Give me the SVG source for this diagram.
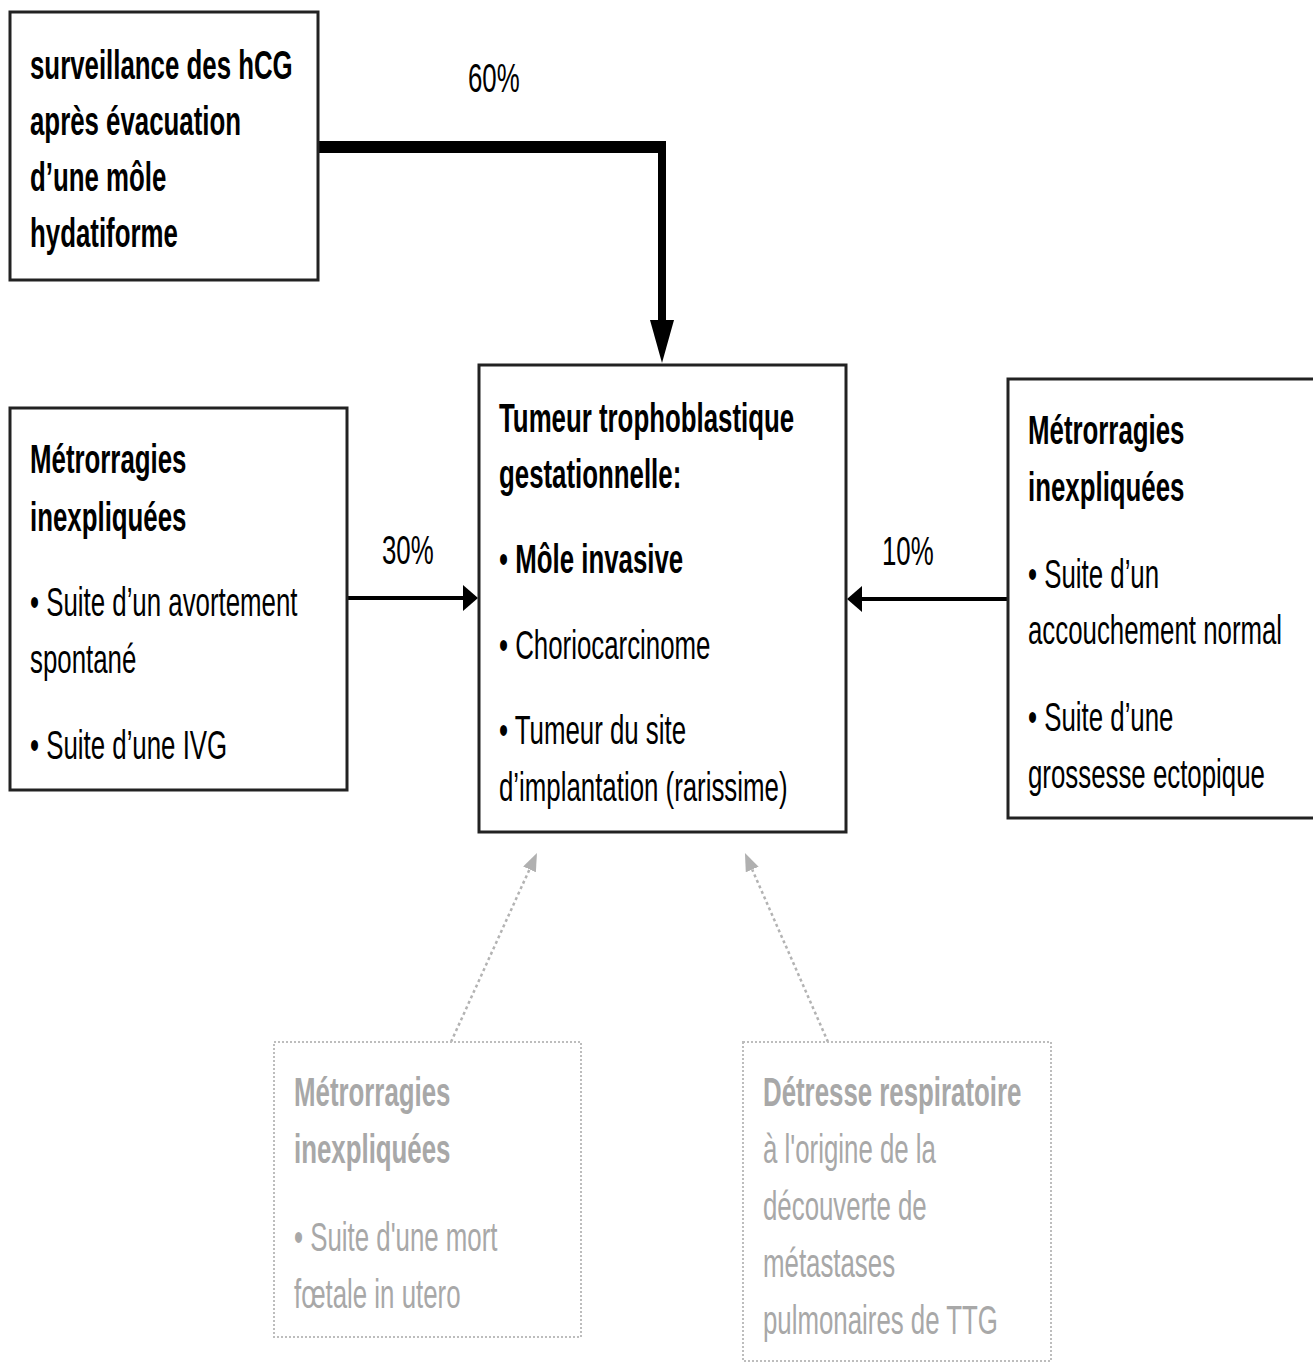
<svg xmlns="http://www.w3.org/2000/svg" width="1313" height="1363" viewBox="0 0 1313 1363">
<defs>
<style>
text{font-family:"Liberation Sans",Arial,sans-serif;font-size:40px;fill:#000}
.b{font-weight:bold}
.g{fill:#a8a8a8}
.box{fill:#fff;stroke:#222;stroke-width:3}
.dbox{fill:#fff;stroke:#bdbdbd;stroke-width:2;stroke-dasharray:2 2}
.ln{fill:none;stroke:#000;stroke-width:4}
.dl{fill:none;stroke:#b3b3b3;stroke-width:2.5;stroke-dasharray:3 3}
</style>
<marker id="ah" markerUnits="userSpaceOnUse" markerWidth="15" markerHeight="26" refX="0" refY="13" orient="auto"><path d="M0,0 L15,13 L0,26 z" fill="#000"/></marker>
<marker id="ahBig" markerUnits="userSpaceOnUse" markerWidth="43" markerHeight="24" refX="0" refY="12" orient="auto"><path d="M0,0 L43,12 L0,24 z" fill="#000"/></marker>
<marker id="ahGrey" markerUnits="userSpaceOnUse" markerWidth="18" markerHeight="14" refX="0" refY="7" orient="auto"><path d="M0,0 L18,7 L0,14 z" fill="#b0b0b0"/></marker>
</defs>
<rect width="1313" height="1363" fill="#fff"/>

<g id="connectors">
<path d="M318,147 H666" fill="none" stroke="#000" stroke-width="12"/>
<path d="M662,141 V320" fill="none" stroke="#000" stroke-width="8" marker-end="url(#ahBig)"/>
<path class="ln" d="M347,598 H463" marker-end="url(#ah)"/>
<path class="ln" d="M1008,599 H862" marker-end="url(#ah)"/>
<path class="dl" d="M451,1042 L529.5,869.4" marker-end="url(#ahGrey)"/>
<path class="dl" d="M828,1042 L752.2,869.5" marker-end="url(#ahGrey)"/>
<g transform="translate(468,0) scale(0.646,1)"><text x="0" y="92">60%</text></g>
<g transform="translate(382,0) scale(0.646,1)"><text x="0" y="564">30%</text></g>
<g transform="translate(882,0) scale(0.646,1)"><text x="0" y="565">10%</text></g>
</g>

<g id="node-surveillance">
<rect class="box" x="10" y="12" width="308" height="268"/>
<g transform="translate(30,0) scale(0.646,1)">
<text class="b" x="0" y="79">surveillance des hCG</text>
<text class="b" x="0" y="135">après évacuation</text>
<text class="b" x="0" y="191">d’une môle</text>
<text class="b" x="0" y="247">hydatiforme</text>
</g>
</g>

<g id="node-ttg">
<rect class="box" x="479" y="365" width="367" height="467"/>
<g transform="translate(499,0) scale(0.646,1)">
<text class="b" x="0" y="432">Tumeur trophoblastique</text>
<text class="b" x="0" y="488">gestationnelle:</text>
<text x="0" y="573">• <tspan class="b">Môle invasive</tspan></text>
<text x="0" y="659">• Choriocarcinome</text>
<text x="0" y="744">• Tumeur du site</text>
<text x="0" y="801">d’implantation (rarissime)</text>
</g>
</g>

<g id="node-left">
<rect class="box" x="10" y="408" width="337" height="382"/>
<g transform="translate(30,0) scale(0.646,1)">
<text class="b" x="0" y="473">Métrorragies</text>
<text class="b" x="0" y="531">inexpliquées</text>
<text x="0" y="616">• Suite d’un avortement</text>
<text x="0" y="673">spontané</text>
<text x="0" y="759">• Suite d’une IVG</text>
</g>
</g>

<g id="node-right">
<rect class="box" x="1008" y="379" width="320" height="439"/>
<g transform="translate(1028,0) scale(0.646,1)">
<text class="b" x="0" y="444">Métrorragies</text>
<text class="b" x="0" y="501">inexpliquées</text>
<text x="0" y="588">• Suite d’un</text>
<text x="0" y="644">accouchement normal</text>
<text x="0" y="731">• Suite d’une</text>
<text x="0" y="788">grossesse ectopique</text>
</g>
</g>

<g id="node-mfiu">
<rect class="dbox" x="274" y="1042" width="307" height="295"/>
<g transform="translate(294,0) scale(0.646,1)">
<text class="b g" x="0" y="1106">Métrorragies</text>
<text class="b g" x="0" y="1163">inexpliquées</text>
<text class="g" x="0" y="1251">• Suite d'une mort</text>
<text class="g" x="0" y="1308">fœtale in utero</text>
</g>
</g>

<g id="node-detresse">
<rect class="dbox" x="743" y="1042" width="308" height="319"/>
<g transform="translate(763,0) scale(0.646,1)">
<text class="b g" x="0" y="1106">Détresse respiratoire</text>
<text class="g" x="0" y="1163">à l'origine de la</text>
<text class="g" x="0" y="1220">découverte de</text>
<text class="g" x="0" y="1277">métastases</text>
<text class="g" x="0" y="1334">pulmonaires de TTG</text>
</g>
</g>
</svg>
